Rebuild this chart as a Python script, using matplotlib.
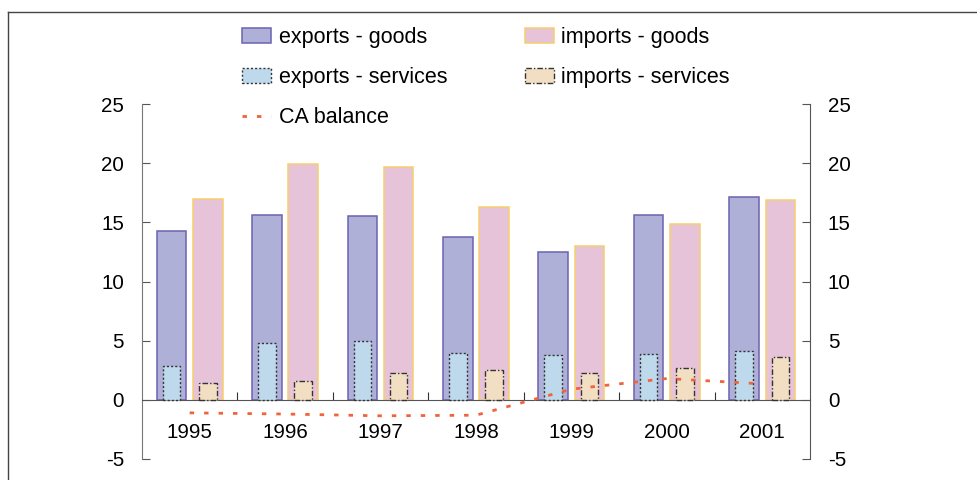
import numpy as np
import matplotlib
matplotlib.use("Agg")
import matplotlib.pyplot as plt
from matplotlib.lines import Line2D

plt.rcParams['font.family'] = ['Liberation Sans', 'DejaVu Sans']
plt.rcParams['axes.unicode_minus'] = False

# chart data (% of GDP)
years = ['1995', '1996', '1997', '1998', '1999', '2000', '2001']
exports_goods = [14.3, 15.6, 15.5, 13.8, 12.5, 15.6, 17.1]
imports_goods = [17.0, 19.9, 19.7, 16.3, 13.0, 14.9, 16.9]
exports_services = [2.9, 4.8, 5.0, 4.0, 3.8, 3.9, 4.1]
imports_services = [1.4, 1.6, 2.3, 2.5, 2.3, 2.7, 3.6]
ca_balance = [-1.1, -1.2, -1.35, -1.3, 0.9, 1.8, 1.35]

x = np.arange(len(years))
off = 0.19

fig = plt.figure(figsize=(9.77, 4.8), dpi=100)
ax = fig.add_axes([0.1453, 0.04375, 0.829 - 0.1453, 0.7833 - 0.04375])

# goods bars (wide), services bars (narrow) on top
b1 = ax.bar(x - off, exports_goods, 0.31, color='#AEB0D8', edgecolor='#6C62B2', linewidth=1.1, zorder=2)
b2 = ax.bar(x + off, imports_goods, 0.31, color='#E7C3DA', edgecolor='#F6CF6C', linewidth=1.1, zorder=2)
b3 = ax.bar(x - off, exports_services, 0.185, color='#BED8EC', edgecolor='#333333',
            linewidth=1.0, linestyle=(0, (1.5, 1.5)), zorder=3)
b4 = ax.bar(x + off, imports_services, 0.185, color='#F2DEC2', edgecolor='#333333',
            linewidth=1.0, linestyle=(0, (4, 1.5, 1, 1.5)), zorder=3)
ln, = ax.plot(x, ca_balance, color='#F0643C', linewidth=2, dashes=(1.6, 3.6), zorder=4)

ax.set_xlim(-0.5, len(years) - 0.5)
ax.set_ylim(-5, 25)
ax.set_yticks(np.arange(-5, 26, 5))

# axis at zero with category ticks pointing up
ax.spines['top'].set_visible(False)
ax.spines['bottom'].set_position(('data', 0))
ax.spines['bottom'].set_color('#555555')
ax.spines['left'].set_color('#777777')
ax.spines['right'].set_color('#555555')
ax.set_xticks(x[:-1] + 0.5)
ax.set_xticklabels([])
ax.tick_params(axis='x', direction='in', length=6, color='#333333')
ax.tick_params(axis='y', direction='in', length=6, color='#555555', labelsize=14.8,
               right=True, labelright=True, pad=13)

for xi, yr in zip(x, years):
    ax.text(xi, -2.8, yr, ha='center', va='center', fontsize=14.8)

handles = [b1, b3, ln, b2, b4]
labels = ['exports - goods', 'exports - services', 'CA balance',
          'imports - goods', 'imports - services']
fig.legend(handles, labels, loc='upper left', bbox_to_anchor=(242 / 977, 1 - 27 / 480),
           ncol=2, frameon=False, fontsize=15.5, handlelength=1.35, handleheight=0.65,
           handletextpad=0.35, labelspacing=0.88, columnspacing=3.6, borderpad=0,
           borderaxespad=0)

# outer frame of the figure box
fig.add_artist(Line2D([8 / 977, 8 / 977], [-0.01, 1 - 12 / 480], transform=fig.transFigure,
                      color='#444444', linewidth=1))
fig.add_artist(Line2D([8 / 977, 1.01], [1 - 12 / 480, 1 - 12 / 480], transform=fig.transFigure,
                      color='#444444', linewidth=1))

fig.savefig('out.png', dpi=100)
